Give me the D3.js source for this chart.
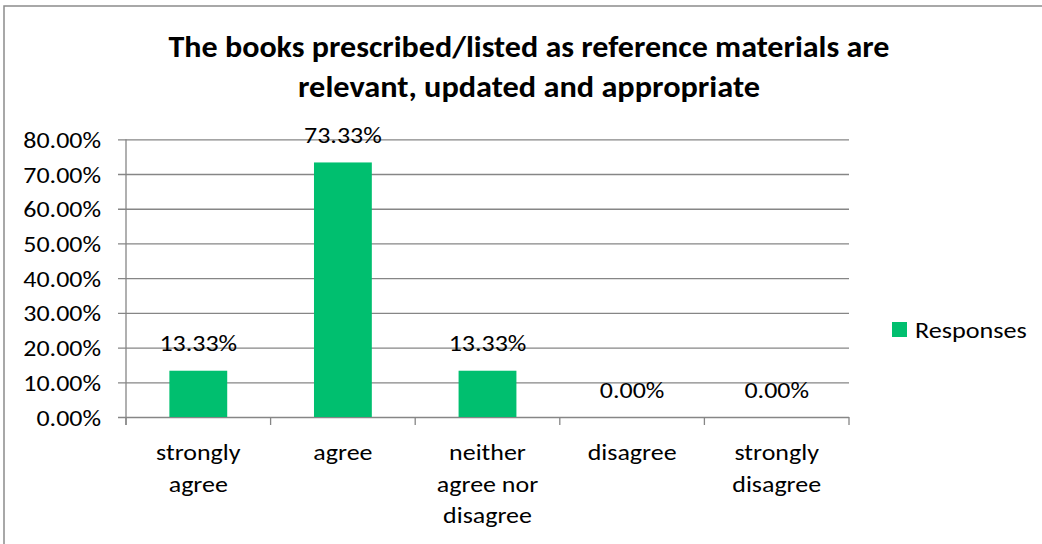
<!DOCTYPE html>
<html><head><meta charset="utf-8">
<script src="https://cdn.jsdelivr.net/npm/d3@7"></script>
<style>body{margin:0;background:#fff}svg{display:block}</style>
</head><body>
<script>
const categories = [["strongly","agree"],["agree"],["neither","agree nor","disagree"],["disagree"],["strongly","disagree"]];
const values = [0.1333, 0.7333, 0.1333, 0, 0];
const valueLabels = ["13.33%","73.33%","13.33%","0.00%","0.00%"];
const yTicks = [0,0.1,0.2,0.3,0.4,0.5,0.6,0.7,0.8];
const titleLines = ["The books prescribed/listed as reference materials are","relevant, updated and appropriate"];
const seriesName = "Responses";

const W=1042,H=544, FONT="Calibri, Carlito, 'Open Sans', sans-serif", FS=22, SX=1.18;
const green="#00bf6f", gridc="#868686";
const svg=d3.select("body").append("svg").attr("width",W).attr("height",H);
svg.append("rect").attr("x",4).attr("y",6).attr("width",1200).attr("height",700).attr("fill","#fff").attr("stroke","#8c8c8c").attr("stroke-width",1.5);

const x=d3.scaleBand().domain(categories.map((d,i)=>i)).range([126,849]).paddingInner(0.6).paddingOuter(0.3);
const y=d3.scaleLinear().domain([0,0.8]).range([417,139.3]);

function stxt(g,xx,yy,t,anchor,opts={}){
  return g.append("text").attr("transform",`translate(${xx},${yy}) scale(${opts.sx||SX},1)`)
    .attr("text-anchor",anchor).attr("font-family",FONT).attr("font-size",opts.fs||FS)
    .attr("fill","#000").text(t);
}

// title
titleLines.forEach((t,i)=>{
  svg.append("text").attr("x",529).attr("y",[57,97][i]).attr("text-anchor","middle")
    .attr("font-family",FONT).attr("font-weight","bold").attr("font-size",30)
    .attr("textLength",[721,462][i]).attr("lengthAdjust","spacingAndGlyphs").text(t);
});

// y axis with gridlines
const yAxis=svg.append("g").attr("transform","translate(126,0)")
  .call(d3.axisLeft(y).tickValues(yTicks).tickSize(8).tickFormat(d=>(d*100).toFixed(2)+"%"));
yAxis.select(".domain").remove();
yAxis.selectAll(".tick line").attr("stroke",gridc).attr("x2",849-126).attr("x1",-8).attr("stroke-width",1.3);
yAxis.selectAll(".tick text").each(function(d){
  const tk=d3.select(this.parentNode); d3.select(this).remove();
  stxt(tk,-25,8,(d*100).toFixed(2)+"%","end");
});
svg.append("line").attr("x1",126).attr("x2",126).attr("y1",y(0.8)).attr("y2",425).attr("stroke",gridc).attr("stroke-width",1.3);
// x ticks at band boundaries
d3.range(categories.length+1).forEach(i=>{
  const xx=x.range()[0]+i*x.step();
  svg.append("line").attr("x1",xx).attr("x2",xx).attr("y1",417).attr("y2",425).attr("stroke",gridc).attr("stroke-width",1.3);
});

// bars
svg.selectAll(".bar").data(values).join("rect").attr("class","bar")
  .attr("x",(d,i)=>x(i)).attr("width",x.bandwidth())
  .attr("y",d=>y(d)).attr("height",d=>y(0)-y(d)).attr("fill",green);

// data labels
values.forEach((v,i)=>stxt(svg,x(i)+x.bandwidth()/2,y(v)-19.5,valueLabels[i],"middle"));

// category labels
categories.forEach((lines,i)=>lines.forEach((l,j)=>stxt(svg,x(i)+x.bandwidth()/2,460+j*31.5,l,"middle")));

// legend
svg.append("rect").attr("x",892).attr("y",322).attr("width",15).attr("height",15).attr("fill",green);
stxt(svg,915,337.5,seriesName,"start",{sx:1.19});
</script>
</body></html>
